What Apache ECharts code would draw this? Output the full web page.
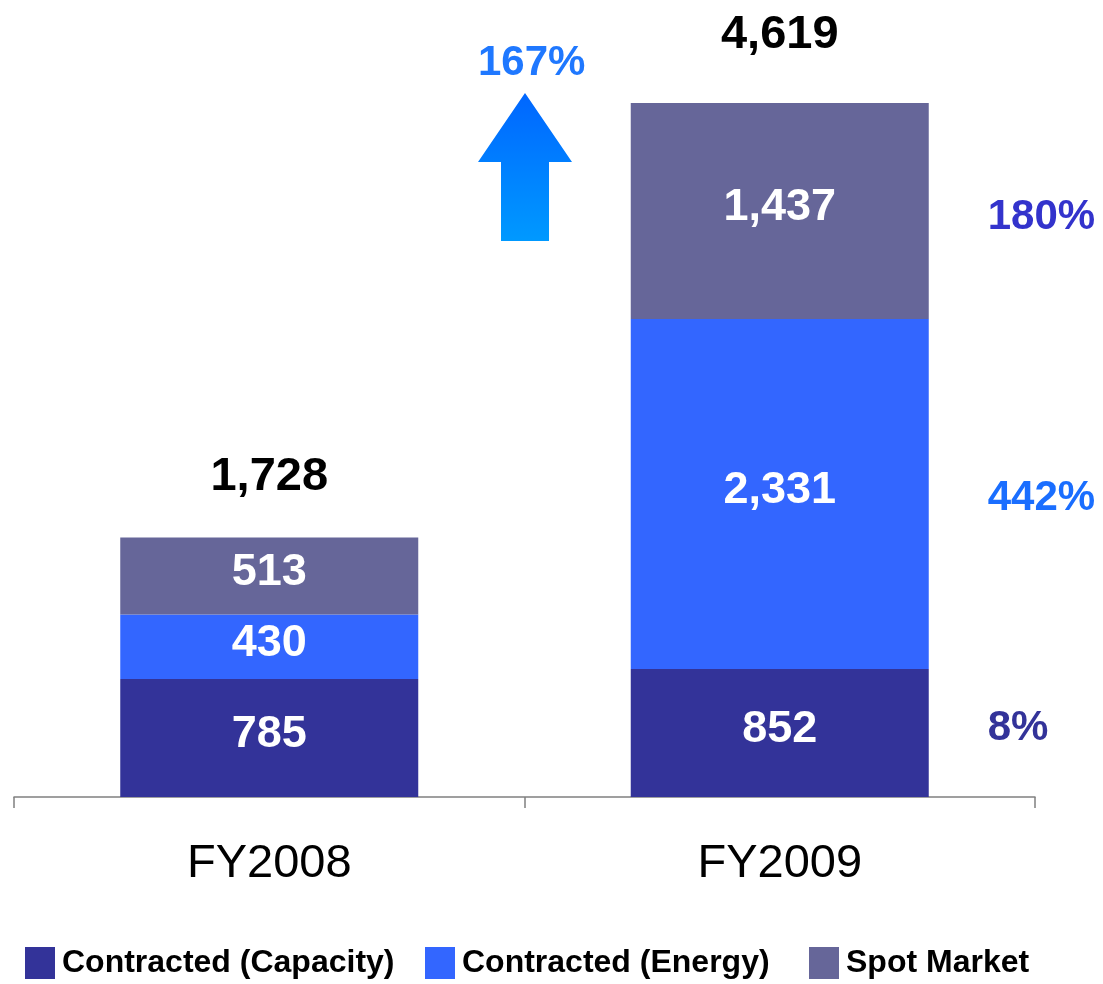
<!DOCTYPE html>
<html>
<head>
<meta charset="utf-8">
<script src="https://cdn.jsdelivr.net/npm/echarts@6.0.0/dist/echarts.min.js"></script>
<style>
  html, body { margin: 0; padding: 0; background: #fff; }
  #chart { width: 1103px; height: 984px; }
</style>
</head>
<body>
<div id="chart"></div>
<script>
// data
const categories = ['FY2008', 'FY2009'];
const seriesNames = ['Contracted (Capacity)', 'Contracted (Energy)', 'Spot Market'];
const capacity = [785, 852];
const energy = [430, 2331];
const spot = [513, 1437];
const totals = [1728, 4619];            // as printed (source rounding)
const segGrowth = ['8%', '442%', '180%']; // capacity, energy, spot
const totalGrowth = '167%';

const colors = ['#333399', '#3366FF', '#666699'];
const pctColors = ['#333399', '#1a6eff', '#3333cc'];
const pctNudge = [-5, 4, 6];

const FONT = '"Liberation Sans", Arial, sans-serif';
const fmt = v => v.toLocaleString('en-US');

const segs = [capacity, energy, spot];

const barSeries = segs.map((arr, k) => ({
  name: seriesNames[k],
  type: 'bar',
  stack: 'total',
  barWidth: 298,
  itemStyle: { color: colors[k] },
  label: {
    show: true,
    position: 'inside',
    offset: [0, -3],
    formatter: p => fmt(p.value),
    color: '#fff',
    fontFamily: FONT,
    fontWeight: 'bold',
    fontSize: 45
  },
  data: arr
}));

// totals above the bars
const totalSeries = {
  type: 'scatter',
  symbolSize: 0,
  silent: true,
  z: 5,
  itemStyle: { opacity: 1 },
  data: totals.map((t, i) => ({
    value: [categories[i], t],
    label: { distance: i === 0 ? 37 : 45 }
  })),
  label: {
    show: true,
    position: 'top',
    formatter: p => fmt(p.value[1]),
    color: '#000',
    opacity: 1,
    fontFamily: FONT,
    fontWeight: 'bold',
    fontSize: 47
  }
};

// growth percentages to the right of FY2009, one per segment
let base = 0;
const pctData = segs.map((arr, k) => {
  const mid = base + arr[1] / 2;
  base += arr[1];
  return {
    value: [categories[1], mid],
    name: segGrowth[k],
    label: { color: pctColors[k], offset: [208, pctNudge[k]] }
  };
});
const pctSeries = {
  type: 'scatter',
  symbolSize: 0,
  silent: true,
  z: 5,
  itemStyle: { opacity: 1 },
  data: pctData,
  label: {
    show: true,
    position: 'inside',
    align: 'left',
    formatter: p => p.name,
    opacity: 1,
    fontFamily: FONT,
    fontWeight: 'bold',
    fontSize: 42
  }
};

const legendBase = {
  top: 947,
  padding: 0,
  itemWidth: 30,
  itemHeight: 32,
  icon: 'rect',
  selectedMode: false,
  textStyle: { fontFamily: FONT, fontWeight: 'bold', fontSize: 32, color: '#000', padding: [5, 0, 0, 2] }
};

const chart = echarts.init(document.getElementById('chart'));
chart.setOption({
  animation: false,
  grid: { left: 14, right: 68, top: 46, bottom: 187 },
  xAxis: {
    type: 'category',
    data: categories,
    axisLine: { lineStyle: { color: '#808080', width: 1.5 } },
    axisTick: { show: true, alignWithLabel: false, length: 11, lineStyle: { color: '#808080', width: 1.5 } },
    axisLabel: { color: '#000', fontFamily: FONT, fontSize: 47, margin: 44 }
  },
  yAxis: { type: 'value', min: 0, max: 5000, show: false },
  legend: [
    Object.assign({ left: 25, data: [seriesNames[0]] }, legendBase),
    Object.assign({ left: 425, data: [seriesNames[1]] }, legendBase),
    Object.assign({ left: 809, data: [seriesNames[2]] }, legendBase)
  ],
  graphic: [
    {
      type: 'polygon',
      shape: { points: [[525, 93], [572, 162], [549, 162], [549, 241], [501, 241], [501, 162], [478, 162]] },
      style: {
        fill: new echarts.graphic.LinearGradient(0, 0, 0, 1, [
          { offset: 0, color: '#0066ff' },
          { offset: 1, color: '#0099ff' }
        ])
      }
    },
    {
      type: 'text',
      left: 478,
      top: 42,
      style: {
        text: totalGrowth,
        fill: '#1f78ff',
        font: 'bold 42px ' + FONT
      }
    }
  ],
  series: [...barSeries, totalSeries, pctSeries]
});
</script>
</body>
</html>
